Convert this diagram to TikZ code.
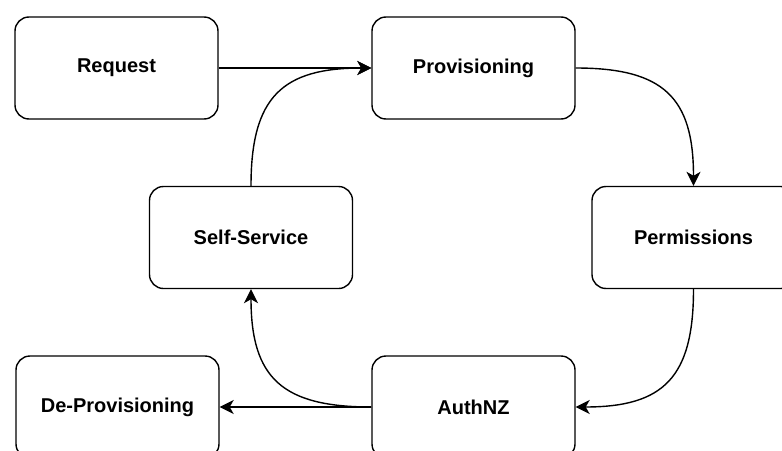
\documentclass[tikz,border=0pt]{standalone}
\usepackage{fontspec}
\setmainfont{Liberation Sans}
\usetikzlibrary{arrows.meta}
\begin{document}
\begin{tikzpicture}[x=1pt,y=-1pt,
  box/.style={draw=black, line width=1.4pt, rounded corners=14pt, fill=white,
    minimum width=203pt, minimum height=102pt, inner sep=0pt,
    font=\bfseries\fontsize{20}{24}\selectfont},
  conn/.style={draw=black, line width=1.4pt, -{Stealth[length=14pt,width=14pt,inset=4pt]}}
]
\useasboundingbox (0,0) rectangle (782,450);
\clip (0,0) rectangle (782,450);
\node[box] (req) at (116.5,68) {Request};
\node[box] (prov) at (473.5,68) {Provisioning};
\node[box] (self) at (251,237.5) {Self-Service};
\node[box] (perm) at (693.5,237.5) {Permissions};
\node[box] (deprov) at (117.5,407) {De-Provisioning};
\node[box] (auth) at (473.5,407) {AuthNZ};

\draw[conn] (req.east) -- (prov.west);
\draw[conn] (prov.east) to[out=0,in=90,looseness=1.35] (perm.north);
\draw[conn] (perm.south) to[out=-90,in=0,looseness=1.35] (auth.east);
\draw[conn] (auth.west) to[out=180,in=-90,looseness=1.35] (self.south);
\draw[conn] (auth.west) -- (deprov.east);
\draw[conn] (self.north) to[out=90,in=180,looseness=1.35] (prov.west);
\end{tikzpicture}
\end{document}
